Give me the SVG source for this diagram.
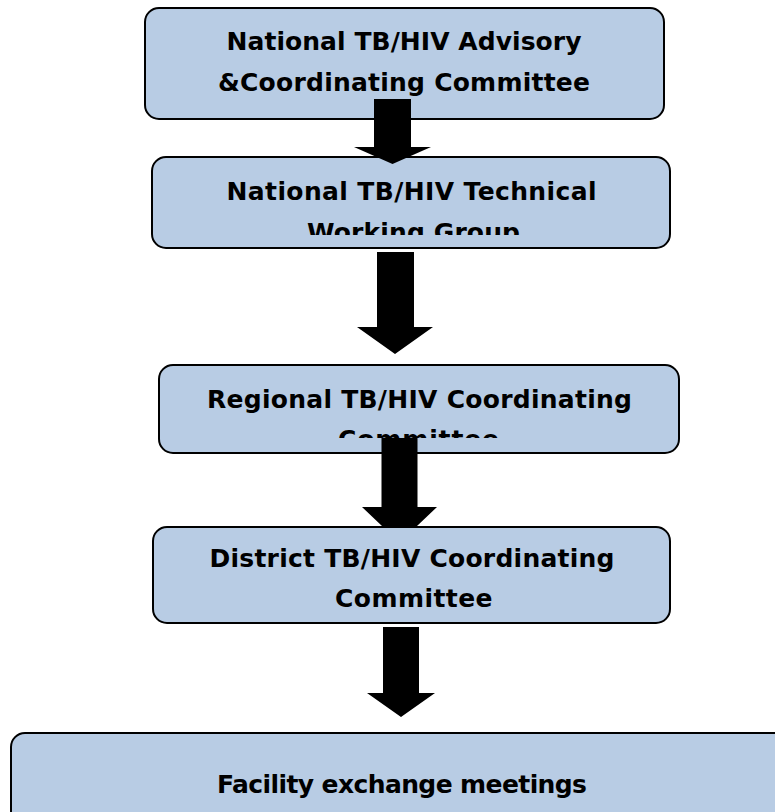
<svg xmlns="http://www.w3.org/2000/svg" width="775" height="812" viewBox="0 0 775 812">
  <style>
    .box { fill: #B8CCE4; stroke: #000000; stroke-width: 2; }
    .lbl { font-family: "DejaVu Sans", "Liberation Sans", sans-serif; font-weight: bold; font-size: 25px; fill: #000000; text-anchor: middle; }
    .arrow { fill: #000000; stroke: none; }
  </style>
  <defs>
    <clipPath id="clip2"><rect x="150" y="155" width="525" height="80"/></clipPath>
    <clipPath id="clip3"><rect x="150" y="360" width="535" height="78"/></clipPath>
  </defs>
  <rect x="0" y="0" width="775" height="812" fill="#ffffff"/>

  <g id="node-national-advisory">
    <rect class="box" x="145" y="8" width="519" height="111" rx="14" ry="14"/>
    <text class="lbl" x="404" y="50" textLength="355">National TB/HIV Advisory</text>
    <text class="lbl" x="404" y="91" textLength="372">&amp;Coordinating Committee</text>
  </g>

  <g id="node-national-twg">
    <rect class="box" x="152" y="157" width="518" height="91" rx="14" ry="14"/>
    <g clip-path="url(#clip2)">
      <text class="lbl" x="411.5" y="200" textLength="370">National TB/HIV Technical</text>
      <text class="lbl" x="413.5" y="241" textLength="213">Working Group</text>
    </g>
  </g>

  <g id="node-regional">
    <rect class="box" x="159" y="365" width="520" height="88" rx="14" ry="14"/>
    <g clip-path="url(#clip3)">
      <text class="lbl" x="419.5" y="408" textLength="425">Regional TB/HIV Coordinating</text>
      <text class="lbl" x="418.5" y="448" textLength="161">Committee</text>
    </g>
  </g>

  <g id="node-district">
    <rect class="box" x="153" y="527" width="517" height="96" rx="14" ry="14"/>
    <text class="lbl" x="412" y="567" textLength="405">District TB/HIV Coordinating</text>
    <text class="lbl" x="413.8" y="607" textLength="157.5">Committee</text>
  </g>

  <g id="node-facility">
    <rect class="box" x="11" y="733" width="800" height="120" rx="14" ry="14"/>
    <text class="lbl" x="402" y="793" textLength="370">Facility exchange meetings</text>
  </g>

  <g id="connectors">
    <polygon class="arrow" points="374,99 411,99 411,147 431,147 392.5,164 354,147 374,147"/>
    <polygon class="arrow" points="377,252 414,252 414,327 433,327 395,354 357,327 377,327"/>
    <polygon class="arrow" points="381.5,438 417.5,438 417.5,507 437,507 417,526 382,526 362,507 381.5,507"/>
    <polygon class="arrow" points="383,627 419,627 419,693 435,693 401,717 367,693 383,693"/>
  </g>
</svg>
